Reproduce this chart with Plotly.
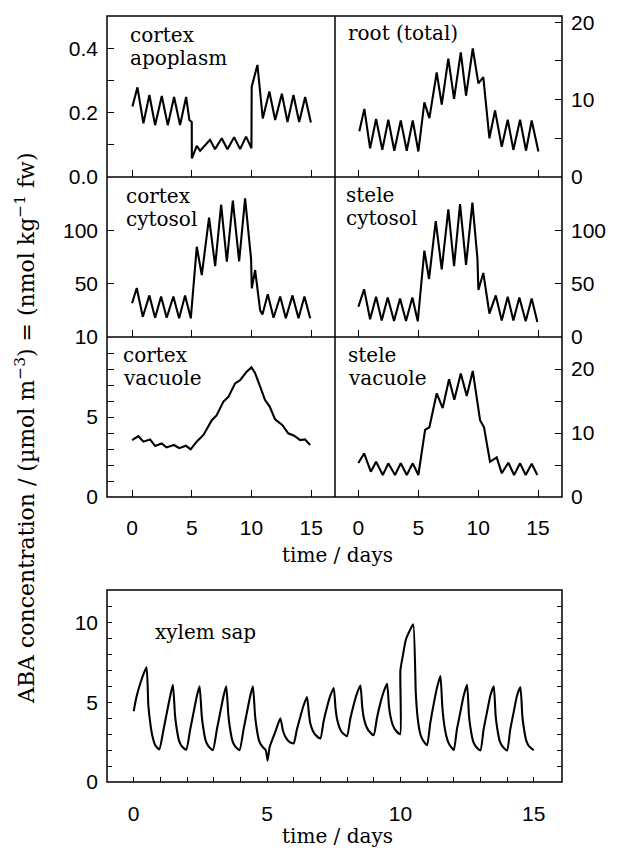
import plotly.graph_objects as go

# ---------------- data ----------------
t_apo = [0.03, 0.45, 0.95, 1.45, 1.93, 2.49, 2.99, 3.52, 4.02, 4.53, 4.8, 5.0, 5.01, 5.42, 5.7,
         6.53, 6.95, 7.51, 7.99, 8.55, 9.05, 9.55, 10.0, 10.02, 10.5, 10.95, 11.5, 11.99, 12.55,
         13.02, 13.52, 14.0, 14.5, 14.98]
v_apo = [0.22, 0.28, 0.168, 0.256, 0.162, 0.253, 0.162, 0.25, 0.162, 0.25, 0.178, 0.172, 0.058,
         0.097, 0.082, 0.116, 0.087, 0.121, 0.087, 0.124, 0.087, 0.126, 0.09, 0.282, 0.35, 0.183,
         0.267, 0.178, 0.26, 0.172, 0.256, 0.172, 0.25, 0.17]

t_root = [0.08, 0.5, 0.98, 1.48, 2.0, 2.5, 3.0, 3.54, 4.04, 4.54, 5.01, 5.51, 5.93, 6.54, 6.96,
          7.51, 7.99, 8.55, 8.99, 9.55, 10.02, 10.43, 10.94, 11.41, 11.97, 12.47, 12.94, 13.5,
          14.0, 14.47, 15.03]
v_root = [5.9, 8.8, 3.7, 7.5, 3.5, 7.4, 3.4, 7.3, 3.4, 7.3, 3.3, 9.65, 7.6, 13.5, 9.35, 15.3,
          10.1, 16.1, 10.5, 16.6, 12.1, 12.9, 5.0, 8.6, 3.9, 7.4, 3.5, 7.4, 3.4, 7.3, 3.3]

t_ccyt = [0.0, 0.39, 0.9, 1.45, 1.93, 2.43, 2.9, 3.46, 3.94, 4.44, 4.92, 5.42, 5.84, 6.45, 6.96,
          7.46, 7.94, 8.44, 8.97, 9.47, 9.97, 10.03, 10.31, 10.73, 10.92, 11.37, 11.85, 12.41,
          12.88, 13.44, 13.94, 14.44, 14.92]
v_ccyt = [31.6, 46, 19, 39, 18, 38, 18, 38, 17.5, 39, 17.5, 84.6, 58, 112, 66.5, 124, 70.6,
          127.8, 71, 130, 73, 45.6, 62.8, 25, 21, 40, 18, 38, 17.5, 39, 17.5, 38, 17.5]

t_scyt = [0.0, 0.48, 0.98, 1.48, 1.95, 2.45, 2.98, 3.48, 3.98, 4.51, 4.96, 5.51, 5.9, 6.46, 6.96,
          7.51, 7.99, 8.49, 8.99, 9.52, 9.94, 10.02, 10.43, 10.94, 11.47, 11.97, 12.47, 12.94,
          13.44, 13.97, 14.47, 14.94]
v_scyt = [28.4, 44.7, 16.6, 37.8, 15.5, 37, 15, 36, 15, 37, 14.7, 81, 54.4, 108.7, 63.4, 119.7,
          66.5, 124.6, 67.5, 126, 73.7, 44, 60, 22, 39, 15.5, 37.8, 15.5, 37, 14.7, 36, 14]

t_cvac = [0.0, 0.53, 0.95, 1.51, 1.93, 2.48, 2.88, 3.51, 3.95, 4.51, 4.91, 5.41, 5.98, 6.68,
          7.08, 7.65, 8.08, 8.63, 9.05, 9.6, 10.0, 10.3, 10.73, 11.14, 11.53, 11.98, 12.58,
          13.08, 13.58, 14.08, 14.48, 14.92]
v_cvac = [3.56, 3.8, 3.46, 3.6, 3.19, 3.35, 3.1, 3.25, 3.05, 3.2, 2.98, 3.46, 3.88, 4.8, 5.1,
          5.96, 6.27, 7.1, 7.3, 7.83, 8.1, 7.75, 6.9, 6.06, 5.65, 4.85, 4.5, 3.98, 3.83, 3.56,
          3.6, 3.25]

t_svac = [0.0, 0.48, 1.04, 1.48, 2.04, 2.5, 3.06, 3.54, 4.04, 4.54, 5.01, 5.57, 5.93, 6.54,
          7.04, 7.57, 8.01, 8.55, 9.05, 9.55, 10.16, 10.49, 10.99, 11.55, 11.97, 12.52, 13.0,
          13.5, 13.97, 14.47, 14.94]
v_svac = [5.3, 6.8, 3.96, 5.5, 3.44, 5.26, 3.44, 5.26, 3.44, 5.26, 3.44, 10.5, 10.9, 16.2, 13.9,
          18.4, 15.2, 19.3, 15.8, 19.7, 12.0, 10.9, 5.5, 6.2, 3.7, 5.36, 3.44, 5.26, 3.44, 5.2,
          3.44]

t_xyl = [0.0, 0.1, 0.25, 0.48, 0.55, 0.63, 0.7, 0.81, 0.96,
         1.12, 1.25, 1.37, 1.47, 1.55, 1.6, 1.7, 1.8, 1.97,
         2.12, 2.25, 2.37, 2.47, 2.55, 2.6, 2.7, 2.8, 2.97,
         3.12, 3.25, 3.37, 3.47, 3.55, 3.6, 3.7, 3.8, 3.97,
         4.12, 4.25, 4.37, 4.47, 4.55, 4.6, 4.7, 4.81, 4.95,
         5.02, 5.1, 5.3, 5.5, 5.6, 5.7, 5.85, 6.0,
         6.12, 6.25, 6.37, 6.5, 6.57, 6.62, 6.72, 6.82, 7.0,
         7.12, 7.25, 7.37, 7.5, 7.57, 7.62, 7.72, 7.82, 8.0,
         8.12, 8.25, 8.37, 8.5, 8.57, 8.62, 8.72, 8.82, 9.0,
         9.12, 9.25, 9.37, 9.5, 9.57, 9.62, 9.72, 9.82, 9.99,
         10.0, 10.1, 10.2, 10.35, 10.48, 10.58, 10.65, 10.75, 10.85, 11.0,
         11.12, 11.25, 11.37, 11.5, 11.57, 11.62, 11.72, 11.82, 12.0,
         12.12, 12.25, 12.37, 12.5, 12.57, 12.62, 12.72, 12.82, 13.0,
         13.12, 13.25, 13.37, 13.5, 13.57, 13.62, 13.72, 13.82, 14.0,
         14.12, 14.25, 14.37, 14.5, 14.57, 14.62, 14.72, 14.82, 15.0]
v_xyl = [4.44, 5.3, 6.2, 7.2, 4.8, 3.6, 2.9, 2.3, 2.05,
         3.3, 4.4, 5.4, 6.1, 4.2, 3.5, 2.6, 2.25, 2.02,
         3.3, 4.4, 5.4, 6.0, 4.2, 3.5, 2.6, 2.25, 2.0,
         3.3, 4.4, 5.4, 6.0, 4.2, 3.5, 2.6, 2.25, 2.0,
         3.3, 4.4, 5.4, 6.0, 4.2, 3.5, 2.6, 2.25, 2.0,
         1.35, 2.2, 3.1, 4.0, 3.2, 2.8, 2.5, 2.42,
         3.3, 4.1, 4.8, 5.33, 4.3, 3.7, 3.2, 2.95, 2.73,
         3.8, 4.7, 5.4, 5.9, 4.6, 4.0, 3.4, 3.1, 2.88,
         3.95, 4.85, 5.55, 6.06, 4.7, 4.1, 3.5, 3.2, 2.94,
         4.0, 4.95, 5.65, 6.17, 4.8, 4.2, 3.55, 3.25, 3.0,
         7.0, 8.0, 8.9, 9.5, 9.9, 5.5, 4.0, 3.0, 2.6, 2.31,
         3.7, 4.9, 5.9, 6.65, 4.8, 3.9, 2.9, 2.4, 2.0,
         3.3, 4.4, 5.4, 6.1, 4.2, 3.5, 2.6, 2.25, 1.98,
         3.3, 4.4, 5.4, 6.0, 4.2, 3.5, 2.6, 2.25, 1.98,
         3.3, 4.4, 5.4, 5.94, 4.2, 3.5, 2.6, 2.25, 2.0]

panel_labels = [["cortex", "apoplasm"], ["root (total)"], ["cortex", "cytosol"],
                ["stele", "cytosol"], ["cortex", "vacuole"], ["stele", "vacuole"], ["xylem sap"]]
x_ticks = [0, 5, 10, 15]

# ---------------- layout helpers ----------------
W, H = 623, 848
OFF = 8   # the page body margin shifts the figure by 8 px
def fx(px):
    return (px - OFF) / W
def fy(py):
    return 1 - (py - OFF) / H

SANS = "Liberation Sans"
SERIF = "DejaVu Serif"
TICKFONT = dict(family=SANS, size=21, color="black")

GL, GM, GR = 107, 335, 562          # grid columns (page px)
RT = [16, 177, 337, 497]            # grid row edges (page px)
BT, BB = 590, 782                   # bottom panel (page px)

colL = [fx(GL), fx(GM)]
colR = [fx(GM), fx(GR)]
rows = [[fy(RT[1]), fy(RT[0])], [fy(RT[2]), fy(RT[1])], [fy(RT[3]), fy(RT[2])]]

fig = go.Figure()
series = [(t_apo, v_apo), (t_root, v_root), (t_ccyt, v_ccyt), (t_scyt, v_scyt),
          (t_cvac, v_cvac), (t_svac, v_svac), (t_xyl, v_xyl)]
for i, (t, v) in enumerate(series):
    k = "" if i == 0 else str(i + 1)
    ln = dict(color="black", width=2.1)
    if i == 6:
        ln.update(shape="spline", smoothing=0.5)
    fig.add_trace(go.Scatter(x=t, y=v, mode="lines", line=ln,
                             xaxis="x" + k, yaxis="y" + k, showlegend=False, hoverinfo="skip"))

axis_common = dict(showline=False, automargin=False,
                   ticks="inside", ticklen=7, tickwidth=1.3, tickcolor="black",
                   showgrid=False, zeroline=False, tickfont=TICKFONT, fixedrange=True)

yspecs = [
    dict(range=[0, 0.503], tickvals=[0, 0.1, 0.2, 0.3, 0.4], ticktext=["0.0", "", "0.2", "", "0.4"], side="left"),
    dict(range=[0, 20.8], tickvals=[0, 5, 10, 15, 20], ticktext=["0", "", "10", "", "20"], side="right"),
    dict(range=[0, 150], tickvals=[50, 100], ticktext=["50", "100"], side="left"),
    dict(range=[0, 150], tickvals=[0, 50, 100], ticktext=["0", "50", "100"], side="right"),
    dict(range=[0, 10], tickvals=list(range(0, 11)),
         ticktext=["0", "", "", "", "", "5", "", "", "", "", "10"], side="left"),
    dict(range=[0, 25], tickvals=[0, 5, 10, 15, 20], ticktext=["0", "", "10", "", "20"], side="right"),
]
layout = {}
for i in range(6):
    col = colL if i % 2 == 0 else colR
    row = rows[i // 2]
    k = "" if i == 0 else str(i + 1)
    xr = [-2.1, 17.0] if i % 2 == 0 else [-1.95, 17.0]
    layout["xaxis" + k] = dict(axis_common, domain=col, range=xr, anchor="y" + k,
                               tickvals=x_ticks, showticklabels=(i >= 4),
                               ticklabelstandoff=16)
    layout["yaxis" + k] = dict(axis_common, domain=row, anchor="x" + k, tickmode="array",
                               ticklabelstandoff=8, **yspecs[i])

layout["xaxis7"] = dict(axis_common, domain=[fx(GL), fx(GR)], range=[-1.0, 16.06], anchor="y7",
                        tickvals=list(range(0, 16)),
                        ticktext=[str(v) if v % 5 == 0 else "" for v in range(0, 16)],
                        ticklen=5, ticklabelstandoff=17)
layout["yaxis7"] = dict(axis_common, domain=[fy(BB), fy(BT)], range=[0, 12.05], anchor="x7",
                        tickvals=list(range(0, 13)),
                        ticktext=[str(v) if v % 5 == 0 else "" for v in range(0, 13)],
                        ticklen=5, mirror="ticks", ticklabelstandoff=8)

# frames
LW = 1.5
shapes = []
def line(x0, y0, x1, y1):
    shapes.append(dict(type="line", xref="paper", yref="paper", x0=fx(x0), y0=fy(y0),
                       x1=fx(x1), y1=fy(y1), line=dict(color="black", width=LW)))
shapes.append(dict(type="rect", xref="paper", yref="paper", x0=fx(GL), x1=fx(GR),
                   y0=fy(RT[3]), y1=fy(RT[0]), line=dict(color="black", width=LW)))
line(GM, RT[0], GM, RT[3])
line(GL, RT[1], GR, RT[1])
line(GL, RT[2], GR, RT[2])
shapes.append(dict(type="rect", xref="paper", yref="paper", x0=fx(GL), x1=fx(GR),
                   y0=fy(BB), y1=fy(BT), line=dict(color="black", width=LW)))

# panel labels (left x, first-line centre y in page px)
label_pos = [(128, 35), (346, 33), (124, 196), (344, 195), (121, 355), (346, 355)]
LSP = 23
LFONT = dict(family=SERIF, size=20, color="black")
annotations = []
for (px, py), lines in zip(label_pos, panel_labels[:6]):
    for j, txt in enumerate(lines):
        annotations.append(dict(x=fx(px), y=fy(py + j * LSP), xref="paper", yref="paper",
                                text=txt, showarrow=False, xanchor="left", yanchor="middle",
                                font=LFONT))
annotations.append(dict(x=fx(153), y=fy(632), xref="paper", yref="paper", text=panel_labels[6][0],
                        showarrow=False, xanchor="left", yanchor="middle", font=LFONT))
for py in (555, 836):
    annotations.append(dict(x=fx(337), y=fy(py), xref="paper", yref="paper", text="time / days",
                            showarrow=False, xanchor="center", yanchor="middle", font=LFONT))
annotations.append(dict(x=fx(25), y=fy(428), xref="paper", yref="paper", textangle=-90,
                        text="ABA concentration / (\u00b5mol m<sup>\u22123</sup>) = (nmol kg<sup>\u22121</sup> fw)",
                        showarrow=False, xanchor="center", yanchor="middle",
                        font=dict(family=SERIF, size=22, color="black")))

fig.update_layout(width=W, height=H, margin=dict(l=0, r=0, t=0, b=0),
                  plot_bgcolor="white", paper_bgcolor="white",
                  annotations=annotations, shapes=shapes, **layout)
fig.write_html("out.html")
